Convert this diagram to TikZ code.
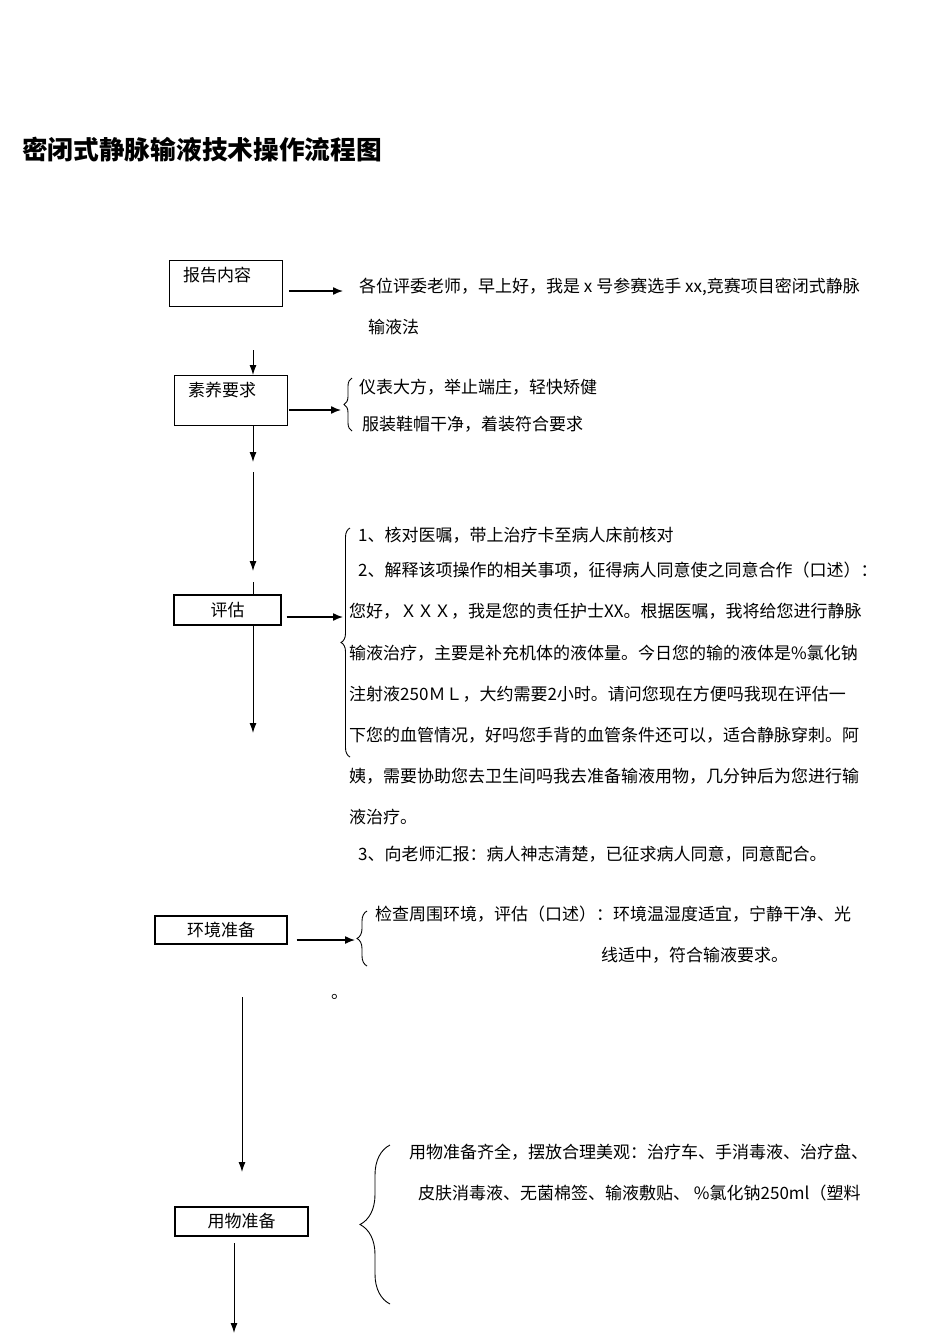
\documentclass[tikz,border=0pt]{standalone}
\usepackage{fontspec}
\setmainfont{Noto Sans CJK SC}
\usetikzlibrary{arrows.meta,decorations.pathreplacing}
\tikzset{
  box/.style={draw, line width=1.2pt, inner sep=0pt},
  txt/.style={anchor=west, inner sep=0pt, font=\fontsize{17}{18}\selectfont},
  arr/.style={line width=1pt, -{Latex[length=10pt,width=7pt]}},
  harr/.style={line width=1.4pt, -{Latex[length=10pt,width=8pt]}},
  plain/.style={line width=1pt},
  brc/.style={decorate, line width=0.9pt},
}
\begin{document}
\begin{tikzpicture}[x=1pt,y=-1pt]
\useasboundingbox (0,0) rectangle (950,1344);
% title
\node[anchor=west, inner sep=0pt, font=\fontsize{25.7}{27}\selectfont\bfseries] (title) at (22,150) {密闭式静脉输液技术操作流程图};

% boxes
\node[box, anchor=north west, minimum width=113, minimum height=46] (b1) at (169,260) {};
\node[txt] (b1t) at (183,275) {报告内容};
\node[box, anchor=north west, minimum width=113, minimum height=50] (b2) at (174,375) {};
\node[txt] (b2t) at (188,390) {素养要求};
\node[box, minimum width=107, minimum height=30, font=\fontsize{17}{18}\selectfont] (b3) at (227.5,610) {评估};
\node[box, minimum width=132, minimum height=28, font=\fontsize{17}{18}\selectfont] (b4) at (221,930) {环境准备};
\node[box, minimum width=133, minimum height=29, font=\fontsize{17}{18}\selectfont] (b5) at (241.5,1221.5) {用物准备};

% texts
\node[txt] (t1a) at (359,287) {各位评委老师，早上好，我是 x 号参赛选手 xx,竞赛项目密闭式静脉};
\node[txt] (t1b) at (368,327) {输液法};
\node[txt] (t2a) at (359,387) {仪表大方，举止端庄，轻快矫健};
\node[txt] (t2b) at (362,424) {服装鞋帽干净，着装符合要求};
\node[txt] (t3a) at (358,535) {1、核对医嘱，带上治疗卡至病人床前核对};
\node[txt] (t3b) at (358,570) {2、解释该项操作的相关事项，征得病人同意使之同意合作（口述）：};
\node[txt] (t3c) at (349,611) {您好，ＸＸＸ，我是您的责任护士XX。根据医嘱，我将给您进行静脉};
\node[txt] (t3d) at (349,653) {输液治疗，主要是补充机体的液体量。今日您的输的液体是\%氯化钠};
\node[txt] (t3e) at (349,694) {注射液250ＭＬ，大约需要2小时。请问您现在方便吗我现在评估一};
\node[txt] (t3f) at (349,735) {下您的血管情况，好吗您手背的血管条件还可以，适合静脉穿刺。阿};
\node[txt] (t3g) at (349,776) {姨，需要协助您去卫生间吗我去准备输液用物，几分钟后为您进行输};
\node[txt] (t3h) at (349,817) {液治疗。};
\node[txt] (t3i) at (358,854) {3、向老师汇报：病人神志清楚，已征求病人同意，同意配合。};
\node[txt] (t4a) at (375,914) {检查周围环境，评估（口述）：环境温湿度适宜，宁静干净、光};
\node[txt] (t4b) at (601,955) {线适中，符合输液要求。};
\node[txt, anchor=base west] (dot) at (331,998) {。};
\node[txt] (t5a) at (409,1152) {用物准备齐全，摆放合理美观：治疗车、手消毒液、治疗盘、};
\node[txt] (t5b) at (418,1193) {皮肤消毒液、无菌棉签、输液敷贴、 \%氯化钠250ml（塑料};

% braces
\coordinate (br2t) at (352,378); \coordinate (br2b) at (352,431);
\draw[brc, decoration={brace, amplitude=8pt}] (br2b) -- (br2t);
\coordinate (br3t) at (350,528); \coordinate (br3b) at (350,757);
\draw[brc, decoration={brace, amplitude=9pt}] (br3b) -- (br3t);
\coordinate (br4t) at (367,911); \coordinate (br4b) at (367,966);
\draw[brc, decoration={brace, amplitude=10pt}] (br4b) -- (br4t);
\coordinate (br5t) at (390,1145); \coordinate (br5b) at (390,1304);
\draw[brc, decoration={brace, amplitude=30pt}] (br5b) -- (br5t);

% horizontal arrows
\coordinate (h1) at (343,291);
\draw[harr] (b1.east |- h1) ++(6,0) -- (h1);
\coordinate (h2) at (341,410);
\draw[harr] (b2.east |- h2) ++(1,0) -- (h2);
\coordinate (h3) at (343,617);
\draw[harr] (b3.east |- h3) ++(5,0) -- (h3);
\coordinate (h4) at (355,940);
\draw[harr] (b4.east |- h4) ++(9,0) -- (h4);

% vertical connectors
\coordinate (v1s) at (253,350);
\draw[arr] (v1s) -- (v1s |- b2.north);
\coordinate (v2e) at (253,462);
\draw[arr] (v2e |- b2.south) -- (v2e);
\coordinate (v3s) at (253,472); \coordinate (v3e) at (253,571);
\draw[arr] (v3s) -- (v3e);
\coordinate (v4s) at (253,582);
\draw[plain] (v4s) -- (v4s |- b3.north);
\coordinate (v5e) at (253,733);
\draw[arr] (v5e |- b3.south) -- (v5e);
\coordinate (v6s) at (242,997); \coordinate (v6e) at (242,1172);
\draw[arr] (v6s) -- (v6e);
\coordinate (v7s) at (234,1243); \coordinate (v7e) at (234,1333);
\draw[arr] (v7s) -- (v7e);
\end{tikzpicture}
\end{document}
